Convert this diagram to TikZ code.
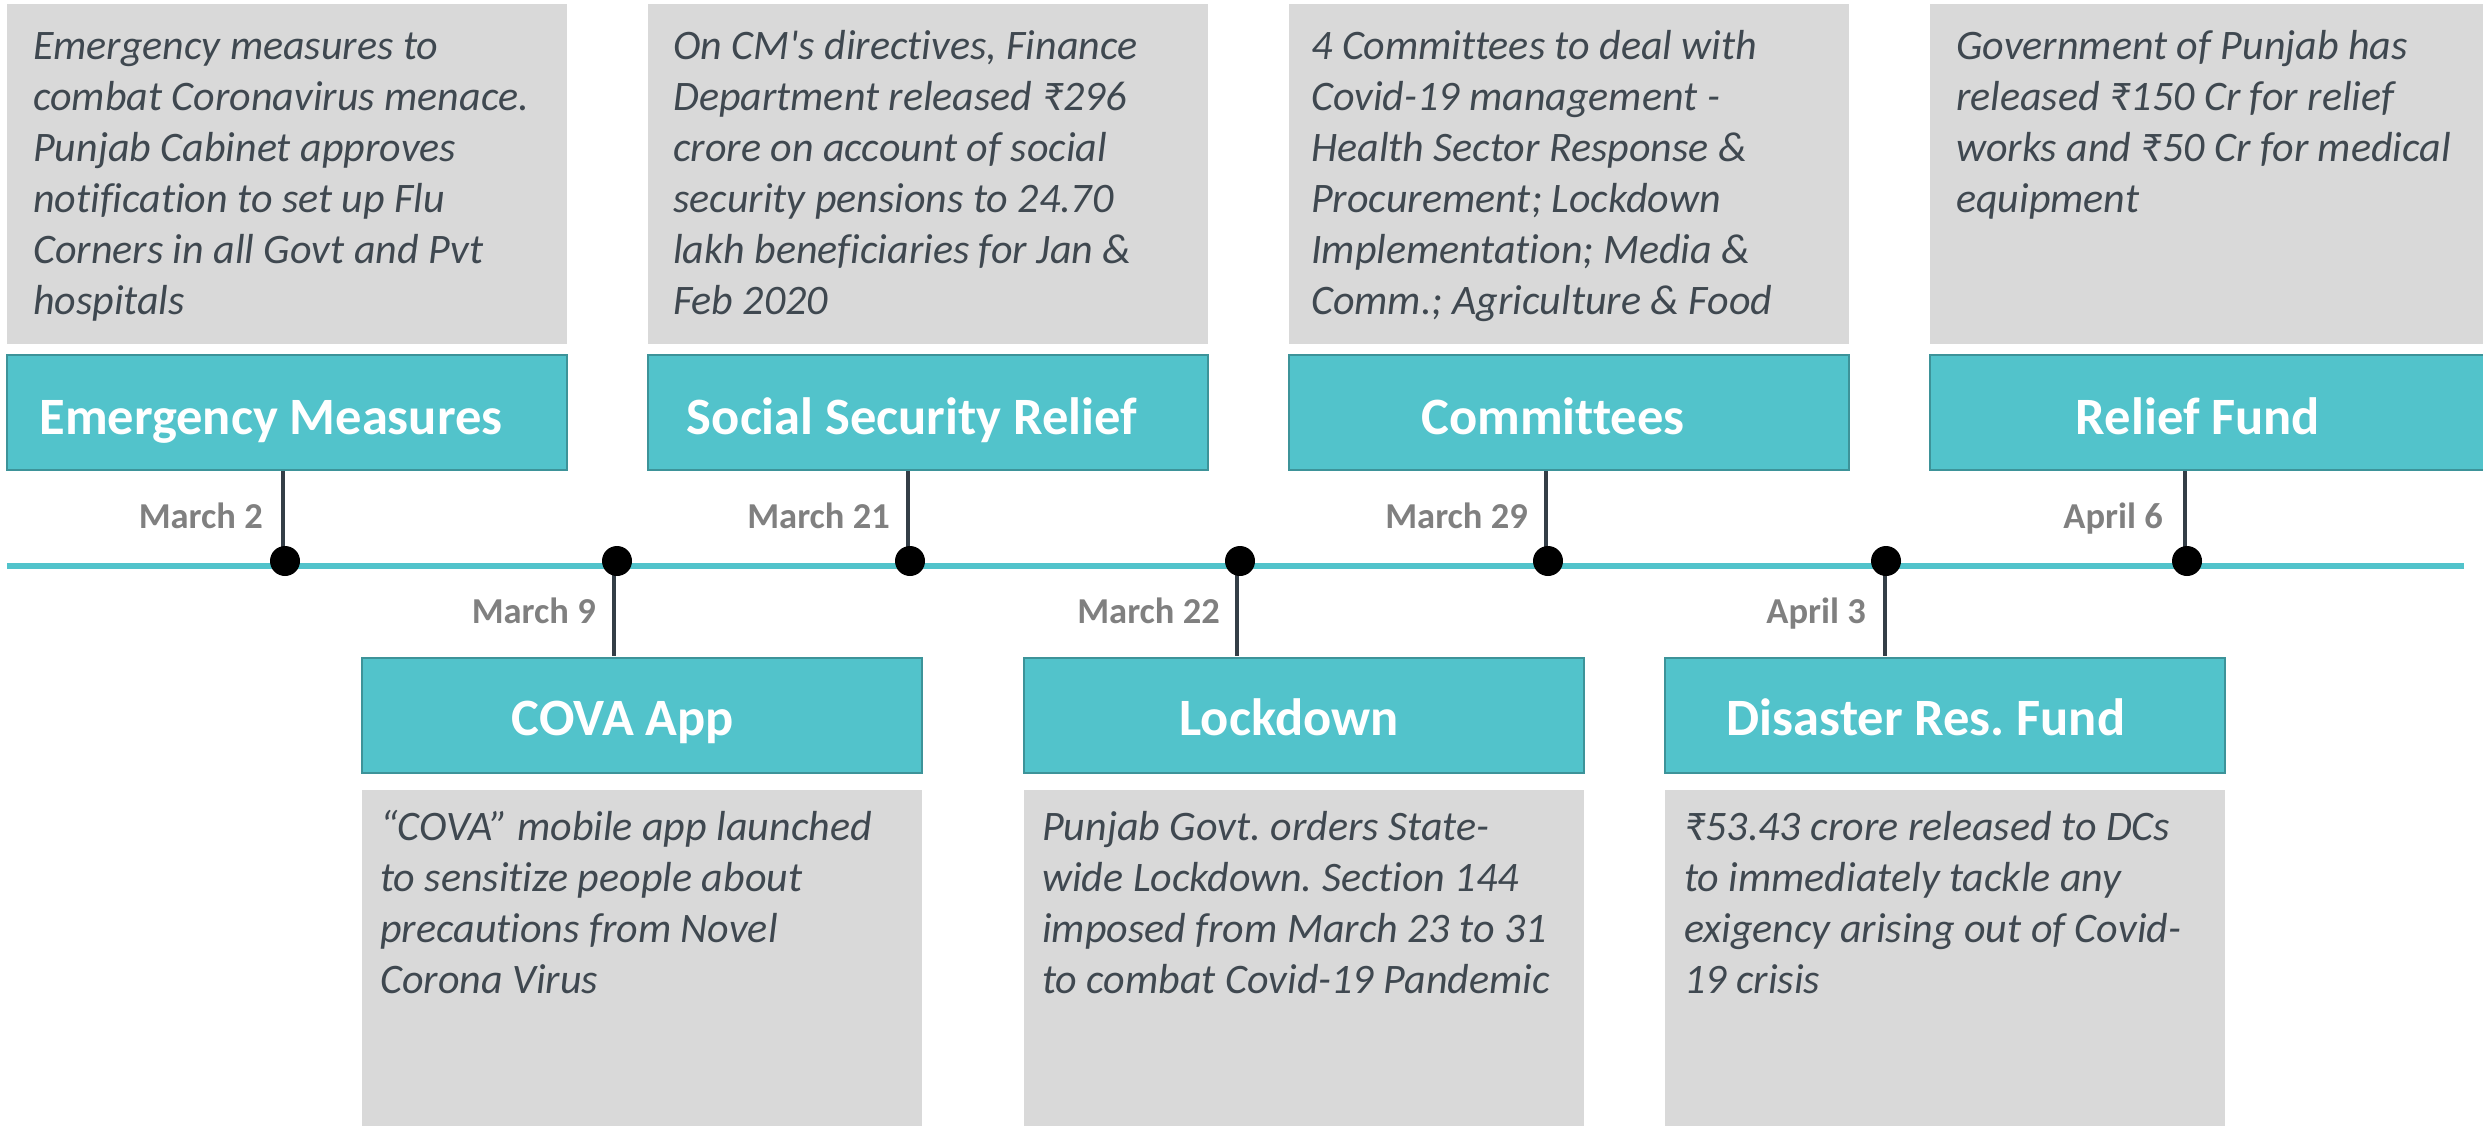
\documentclass[tikz,border=0pt]{standalone}
\usepackage{fontspec}
\setmainfont{Carlito}[Ligatures={TeXOff,NoCommon}]
\newfontfamily\rupfont{Noto Sans}
\newcommand\rup{\iffontchar\font"20B9 ₹\else{\rupfont ₹}\fi}
\usetikzlibrary{backgrounds}
\frenchspacing
\definecolor{tealfill}{HTML}{52C3CB}
\definecolor{tealedge}{HTML}{3D9399}
\definecolor{boxgray}{HTML}{D9D9D9}
\definecolor{desccol}{HTML}{3F4850}
\definecolor{dategray}{HTML}{808080}
\definecolor{stemcol}{HTML}{343E47}
\tikzset{
  graybox/.style={fill=boxgray, draw=none, anchor=north west, inner sep=0, outer sep=0, minimum width=560pt},
  tealbox/.style={fill=tealfill, draw=tealedge, line width=2.5pt, anchor=north west, inner sep=0, outer sep=0, minimum width=560pt, minimum height=115pt},
  titletext/.style={text=white, font=\fontsize{52.5}{63}\selectfont\bfseries, anchor=base, inner sep=0},
  datetext/.style={text=dategray, font=\fontsize{36.5}{44}\selectfont\bfseries, anchor=base east, inner sep=0},
  desctext/.style={text=desccol, font=\fontsize{42}{51}\selectfont\itshape, anchor=base west, inner sep=0},
  tdot/.style={circle, fill=black, minimum size=30pt, inner sep=0},
  stemline/.style={draw=stemcol, line width=3.5pt},
  tline/.style={draw=tealfill, line width=6pt}
}
\newcommand\desc[1]{\parbox[t]{540pt}{\raggedright\frenchspacing #1}}
\begin{document}
\begin{tikzpicture}[x=1pt,y=-1pt]
\useasboundingbox (0,0) rectangle (2483,1126);

% top boxes
\node[graybox, minimum height=340pt] (g1) at (7,4) {};
\node[graybox, minimum height=340pt] (g2) at (648,4) {};
\node[graybox, minimum height=340pt] (g3) at (1289,4) {};
\node[graybox, minimum height=340pt] (g4) at (1930,4) {};
\node[tealbox] (t1) at (7,355) {};
\node[tealbox] (t2) at (648,355) {};
\node[tealbox] (t3) at (1289,355) {};
\node[tealbox] (t4) at (1930,355) {};

% bottom boxes
\node[tealbox] (b1) at (362,658) {};
\node[tealbox] (b2) at (1024,658) {};
\node[tealbox] (b3) at (1665,658) {};
\node[graybox, minimum height=345pt] (h1) at (362,790) {};
\node[graybox, minimum height=345pt] (h2) at (1024,790) {};
\node[graybox, minimum height=345pt] (h3) at (1665,790) {};

% titles
\node[titletext] (tt1) at ([xshift=-16pt,yshift=-79pt]t1.north) {Emergency Measures};
\node[titletext] (tt2) at ([xshift=-16pt,yshift=-79pt]t2.north) {Social Security Relief};
\node[titletext] (tt3) at ([xshift=-16pt,yshift=-79pt]t3.north) {Committees};
\node[titletext] (tt4) at ([xshift=-12pt,yshift=-79pt]t4.north) {Relief Fund};
\node[titletext] (bt1) at ([xshift=-19pt,yshift=-77pt]b1.north) {COVA App};
\node[titletext] (bt2) at ([xshift=-15pt,yshift=-77pt]b2.north) {Lockdown};
\node[titletext] (bt3) at ([xshift=-19pt,yshift=-77pt]b3.north) {Disaster Res. Fund};

% descriptions
\node[desctext] (gd1) at ([xshift=26pt,yshift=-56pt]g1.north west) {\desc{Emergency measures to\\combat Coronavirus menace.\\Punjab Cabinet approves\\notification to set up Flu\\Corners in all Govt and Pvt\\hospitals}};
\node[desctext] (gd2) at ([xshift=25pt,yshift=-56pt]g2.north west) {\desc{On CM's directives, Finance\\Department released \rup296\\crore on account of social\\security pensions to 24.70\\lakh beneficiaries for Jan \&\\Feb 2020}};
\node[desctext] (gd3) at ([xshift=22pt,yshift=-56pt]g3.north west) {\desc{4 Committees to deal with\\Covid-19 management -\\Health Sector Response \&\\Procurement; Lockdown\\Implementation; Media \&\\Comm.; Agriculture \& Food}};
\node[desctext] (gd4) at ([xshift=26pt,yshift=-56pt]g4.north west) {\desc{Government of Punjab has\\released \rup150 Cr for relief\\works and \rup50 Cr for medical\\equipment}};
\node[desctext] (hd1) at ([xshift=18pt,yshift=-50pt]h1.north west) {\desc{“COVA” mobile app launched\\to sensitize people about\\precautions from Novel\\Corona Virus}};
\node[desctext] (hd2) at ([xshift=18pt,yshift=-50pt]h2.north west) {\desc{Punjab Govt. orders State-\\wide Lockdown. Section 144\\imposed from March 23 to 31\\to combat Covid-19 Pandemic}};
\node[desctext] (hd3) at ([xshift=19pt,yshift=-50pt]h3.north west) {\desc{\rup53.43 crore released to DCs\\to immediately tackle any\\exigency arising out of Covid-\\19 crisis}};

% dots
\node[tdot] (d1) at (285,561) {};
\node[tdot] (d2) at (617,561) {};
\node[tdot] (d3) at (910,561) {};
\node[tdot] (d4) at (1240,561) {};
\node[tdot] (d5) at (1548,561) {};
\node[tdot] (d6) at (1886,561) {};
\node[tdot] (d7) at (2187,561) {};

\coordinate (tlL) at (7,566);
\coordinate (tlR) at (2464,566);

\begin{pgfonlayer}{background}
\draw[tline] (tlL) -- (tlR);
\draw[stemline] ([xshift=-2pt]d1.center) -- ([xshift=-2pt]d1.center |- t1.south);
\draw[stemline] ([xshift=-2pt]d3.center) -- ([xshift=-2pt]d3.center |- t2.south);
\draw[stemline] ([xshift=-2pt]d5.center) -- ([xshift=-2pt]d5.center |- t3.south);
\draw[stemline] ([xshift=-2pt]d7.center) -- ([xshift=-2pt]d7.center |- t4.south);
\draw[stemline] ([xshift=-3pt]d2.center) -- ([xshift=-3pt,yshift=2pt]d2.center |- b1.north);
\draw[stemline] ([xshift=-3pt]d4.center) -- ([xshift=-3pt,yshift=2pt]d4.center |- b2.north);
\draw[stemline] ([xshift=-1pt]d6.center) -- ([xshift=-1pt,yshift=2pt]d6.center |- b3.north);
\end{pgfonlayer}

% dates
\node[datetext] (l1) at ([xshift=-22pt,yshift=33pt]d1.center) {March 2};
\node[datetext] (l2) at ([xshift=-21pt,yshift=-62pt]d2.center) {March 9};
\node[datetext] (l3) at ([xshift=-20pt,yshift=33pt]d3.center) {March 21};
\node[datetext] (l4) at ([xshift=-20pt,yshift=-62pt]d4.center) {March 22};
\node[datetext] (l5) at ([xshift=-20pt,yshift=33pt]d5.center) {March 29};
\node[datetext] (l6) at ([xshift=-20pt,yshift=-62pt]d6.center) {April 3};
\node[datetext] (l7) at ([xshift=-24pt,yshift=33pt]d7.center) {April 6};
\end{tikzpicture}
\end{document}
